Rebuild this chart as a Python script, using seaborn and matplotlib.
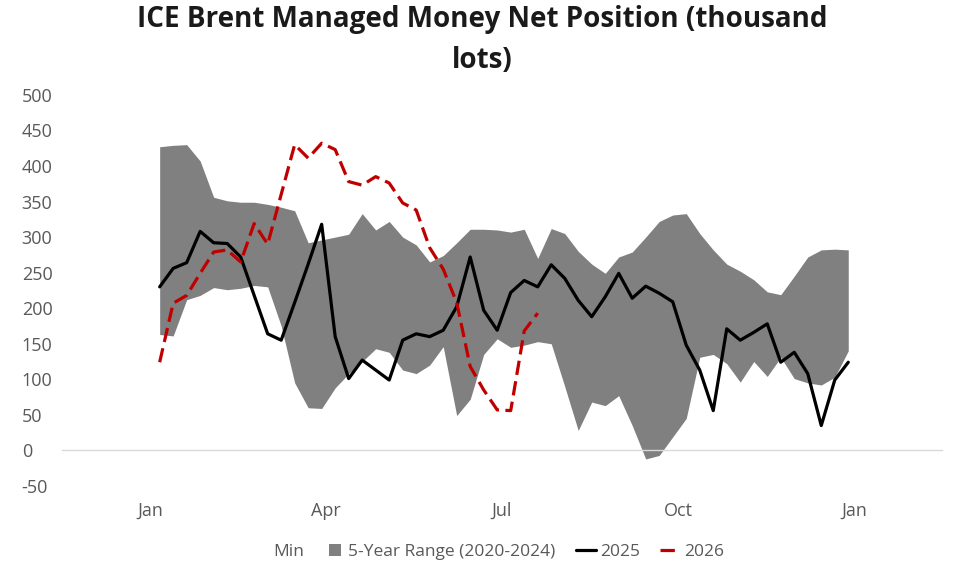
import numpy as np
import pandas as pd
import seaborn as sns
import matplotlib.pyplot as plt
from matplotlib.lines import Line2D

# weekly ICE Brent managed money net position, thousand lots
range_max = [427, 429, 430, 407, 356, 351, 349, 349, 346, 342,
             337, 292, 296, 300, 304, 333, 310, 322, 300, 289,
             265, 274, 292, 311, 311, 310, 307, 311, 270, 312,
             305, 280, 262, 249, 272, 279, 300, 322, 331, 333,
             305, 282, 262, 252, 240, 223, 219, 245, 272, 282,
             283, 282]
range_min = [163, 161, 212, 218, 229, 226, 228, 232, 230, 175,
             95, 60, 59, 88, 108, 125, 143, 138, 113, 108,
             120, 146, 49, 72, 135, 157, 145, 148, 153, 150,
             90, 28, 68, 63, 77, 35, -12, -7, 19, 45,
             131, 135, 122, 96, 125, 104, 131, 101, 95, 92,
             103, 140]
y2025 = [230, 256, 264, 308, 292, 291, 272, 218, 164, 155,
         208, 262, 318, 160, 101, 127, 113, 99, 155, 164,
         160, 169, 202, 272, 197, 169, 222, 239, 230, 261,
         242, 211, 188, 216, 249, 214, 231, 221, 209, 148,
         113, 56, 171, 155, 166, 178, 124, 138, 108, 35,
         99, 124]
y2026 = [124, 207, 218, 249, 279, 282, 265, 319, 290, 360,
         430, 411, 432, 423, 378, 373, 385, 376, 348, 338,
         285, 255, 208, 118, 85, 57, 56, 168, 193]

month_labels = ["Jan", "Apr", "Jul", "Oct", "Jan"]
y_ticks = list(range(-50, 501, 50))

# seasonal axis: day of year of each weekly report
weeks = pd.date_range("2025-01-06", periods=len(y2025), freq="7D")
day = np.asarray((weeks - pd.Timestamp("2025-01-01")).days)

df = pd.concat([
    pd.DataFrame({"day": day, "value": y2025, "year": "2025"}),
    pd.DataFrame({"day": day[:len(y2026)], "value": y2026, "year": "2026"}),
])

sns.set_theme(style="white")
plt.rcParams["font.family"] = ["Open Sans", "DejaVu Sans"]
plt.rcParams["axes.unicode_minus"] = False

fig = plt.figure(figsize=(9.6, 5.69), dpi=100)
ax = fig.add_axes([0.0646, 0.1459, 0.9167, 0.6874])

ax.fill_between(day, range_min, range_max, color="#808080", linewidth=0, zorder=1)
sns.lineplot(data=df, x="day", y="value", hue="year", style="year",
             palette={"2025": "black", "2026": "#c00000"},
             dashes={"2025": "", "2026": (4.5, 2)},
             linewidth=2.3, legend=False, ax=ax, zorder=2)

q = 365 / 4
ax.set_xlim(-q / 2, 365 + q / 2)
ax.set_ylim(-50, 500)
ax.set_xlabel("")
ax.set_ylabel("")

ax.set_xticks(np.arange(-q / 2, 365 + q, q))
ax.set_xticklabels([])
ax.set_xticks(np.arange(0, 366, q), minor=True)
ax.set_xticklabels(month_labels, minor=True)
ax.tick_params(axis="x", which="major", length=5, width=1, color="#d9d9d9", direction="out")
ax.tick_params(axis="x", which="minor", length=0, pad=37, labelsize=13, labelcolor="#595959")

ax.set_yticks(y_ticks)
ax.tick_params(axis="y", length=0, pad=29, labelsize=13, labelcolor="#595959")
for lab in ax.get_yticklabels():
    lab.set_horizontalalignment("left")

for s in ["top", "right", "left"]:
    ax.spines[s].set_visible(False)
ax.spines["bottom"].set_position(("data", 0))
ax.spines["bottom"].set_color("#d9d9d9")
ax.spines["bottom"].set_linewidth(1)

fig.text(0.502, 0.992, "ICE Brent Managed Money Net Position (thousand\nlots)",
         ha="center", va="top", fontsize=20, fontweight="bold", color="#1a1a1a",
         linespacing=1.58)

handles = [
    Line2D([], [], linestyle="none", label="Min"),
    Line2D([], [], linestyle="none", marker="s", markersize=9,
           markerfacecolor="#808080", markeredgewidth=0, label="5-Year Range (2020-2024)"),
    Line2D([], [], color="black", linewidth=2.3, label="2025"),
    Line2D([], [], color="#c00000", linewidth=2.3, dashes=(4.5, 2), label="2026"),
]
fig.legend(handles=handles, loc="center", bbox_to_anchor=(0.507, 0.030), ncol=4,
           frameon=False, fontsize=12.5, labelcolor="#595959",
           handlelength=1.15, handletextpad=0.2, columnspacing=1.2)

fig.savefig("out.png", dpi=100)
